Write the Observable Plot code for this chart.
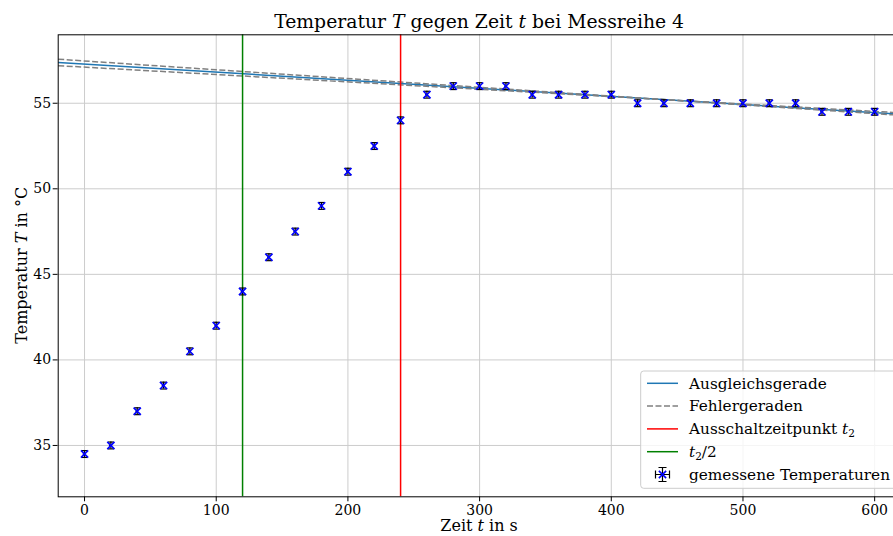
<!DOCTYPE html>
<html><head><meta charset="utf-8">
<script src="https://cdn.jsdelivr.net/npm/d3@7"></script>
<script src="https://cdn.jsdelivr.net/npm/@observablehq/plot@0.6"></script>
<style>body{margin:0;background:#fff} #chart svg{font-family:"DejaVu Serif";display:block}</style>
</head><body><div id="chart"></div>
<script>
// ---- data ----
const times = [0,20,40,60,80,100,120,140,160,180,200,220,240,260,280,300,320,340,360,380,400,420,440,460,480,500,520,540,560,580,600];
const temps = [34.5,35,37,38.5,40.5,42,44,46,47.5,49,51,52.5,54,55.5,56,56,56,55.5,55.5,55.5,55.5,55,55,55,55,55,55,55,54.5,54.5,54.5];
const timeErr = 1;
const tempErr = 0.2;
const fitParams = {slope: -0.00473, intercept: 57.29};
const errUpperParams = {slope: -0.00513, intercept: 57.47};
const errLowerParams = {slope: -0.00431, intercept: 57.11};
const switchOffTime = [240];
const halfTime = [120];
const xTicks = [0,100,200,300,400,500,600];
const yTicks = [35,40,45,50,55];
const xDomain = [-20, 620];
const yDomain = [32, 59];
const titleParts = [["Temperatur ",false],["T",true],[" gegen Zeit ",false],["t",true],[" bei Messreihe 4",false]];
const xLabelParts = [["Zeit ",false],["t",true],[" in s",false]];
const yLabelParts = [["Temperatur ",false],["T",true],[" in °C",false]];
const legendLabels = ["Ausgleichsgerade","Fehlergeraden","Ausschaltzeitpunkt ","","gemessene Temperaturen"];

const data = times.map((t,i)=>({t, T: temps[i]}));
const lineOf = p => ({x1: xDomain[0], y1: p.intercept + p.slope*xDomain[0], x2: xDomain[1], y2: p.intercept + p.slope*xDomain[1]});
const fitLine = [lineOf(fitParams)];
const errLines = [lineOf(errUpperParams), lineOf(errLowerParams)];

const hCap = {draw(ctx, size){ const w = Math.sqrt(size/Math.PI); ctx.moveTo(-w,0); ctx.lineTo(w,0); }};

const chart = Plot.plot({
  width: 893, height: 536,
  marginLeft: 57.7, marginRight: -7.5, marginTop: 34.3, marginBottom: 39.7,
  style: {fontFamily: "DejaVu Serif", fontSize: "14px", background: "white", color: "black"},
  x: {domain: xDomain, ticks: xTicks, tickSize: 5, tickPadding: 3, label: null, tickFormat: d => String(d)},
  y: {domain: yDomain, ticks: yTicks, tickSize: 5, tickPadding: 2, label: null, tickFormat: d => String(d)},
  marks: [
    Plot.ruleX(xTicks, {stroke: "#cccccc", strokeWidth: 1}),
    Plot.ruleY(yTicks, {stroke: "#cccccc", strokeWidth: 1}),
    Plot.link(fitLine, {x1:"x1", y1:"y1", x2:"x2", y2:"y2", stroke: "#1f77b4", strokeWidth: 1.5}),
    Plot.link(errLines, {x1:"x1", y1:"y1", x2:"x2", y2:"y2", stroke: "gray", strokeWidth: 1.5, strokeDasharray: "6,2.5"}),
    Plot.ruleX(switchOffTime, {stroke: "red", strokeWidth: 1.5}),
    Plot.ruleX(halfTime, {stroke: "green", strokeWidth: 1.5}),
    Plot.ruleX(data, {x: "t", y1: d => d.T - tempErr, y2: d => d.T + tempErr, stroke: "black", strokeWidth: 1.2}),
    Plot.ruleY(data, {y: "T", x1: d => d.t - timeErr, x2: d => d.t + timeErr, stroke: "black", strokeWidth: 1.2}),
    Plot.dot(data, {x: "t", y: d => d.T + tempErr, symbol: hCap, r: 3, stroke: "black", strokeWidth: 1.2}),
    Plot.dot(data, {x: "t", y: d => d.T - tempErr, symbol: hCap, r: 3, stroke: "black", strokeWidth: 1.2}),
    Plot.dot(data, {x: "t", y: d => d.T, symbol: "times", r: 3.4, stroke: "blue", strokeWidth: 1.6}),
    Plot.frame({stroke: "black", strokeWidth: 1})
  ]
});
document.getElementById("chart").appendChild(chart);

const svg = d3.select(chart);
const [xr0, xr1] = chart.scale("x").range;
const [yb, yt] = chart.scale("y").range;
function addText(sel, parts){
  parts.forEach(([s, it]) => sel.append("tspan").attr("font-style", it ? "italic" : null).text(s));
  return sel;
}
addText(svg.append("text").attr("x", (xr0+xr1)/2).attr("y", 28).attr("text-anchor","middle").attr("font-size", 18.8), titleParts);
addText(svg.append("text").attr("x", (xr0+xr1)/2).attr("y", 531).attr("text-anchor","middle").attr("font-size", 16), xLabelParts);
addText(svg.append("text").attr("transform", `translate(27,${(yb+yt)/2}) rotate(-90)`).attr("text-anchor","middle").attr("font-size", 16), yLabelParts);

// legend
const lg = svg.append("g").attr("font-size", 15.3).attr("text-anchor", "start");
lg.append("rect").attr("x", 640.7).attr("y", 371).attr("width", 300).attr("height", 117.3).attr("rx", 3)
  .attr("fill", "white").attr("fill-opacity", 0.8).attr("stroke", "#cccccc");
const rowY = i => 383.3 + i*22.8;
const sw0 = 647, sw1 = 678, tx = 689;
const swatches = [
  {stroke:"#1f77b4"}, {stroke:"gray", dash:"6,2.5"}, {stroke:"red"}, {stroke:"green"}
];
swatches.forEach((s,i) => {
  lg.append("line").attr("x1", sw0).attr("x2", sw1).attr("y1", rowY(i)).attr("y2", rowY(i))
    .attr("stroke", s.stroke).attr("stroke-width", 1.5).attr("stroke-dasharray", s.dash || null);
});
// errorbar swatch
const ex = (sw0+sw1)/2, ey = rowY(4);
lg.append("path").attr("d", `M${ex-7},${ey}H${ex+7}M${ex-7},${ey-4}V${ey+4}M${ex+7},${ey-4}V${ey+4}M${ex},${ey-7}V${ey+7}M${ex-4},${ey-7}H${ex+4}M${ex-4},${ey+7}H${ex+4}`)
  .attr("stroke","black").attr("stroke-width",1.2).attr("fill","none");
lg.append("path").attr("d", d3.symbol(d3.symbolTimes, 3.4*3.4*Math.PI)()).attr("transform", `translate(${ex},${ey})`)
  .attr("stroke","blue").attr("stroke-width",1.6).attr("fill","none");
legendLabels.forEach((lab, i) => {
  const t = lg.append("text").attr("x", tx).attr("y", rowY(i)).attr("dy", "0.35em");
  if (i === 2) {
    t.append("tspan").text(lab);
    t.append("tspan").attr("font-style","italic").text("t");
    t.append("tspan").attr("font-size", 10.5).attr("dy", 3).text("2");
  } else if (i === 3) {
    t.append("tspan").attr("font-style","italic").text("t");
    t.append("tspan").attr("font-size", 10.5).attr("dy", 3).text("2");
    t.append("tspan").attr("dy", -3).text("/2");
  } else {
    t.text(lab);
  }
});
</script></body></html>
